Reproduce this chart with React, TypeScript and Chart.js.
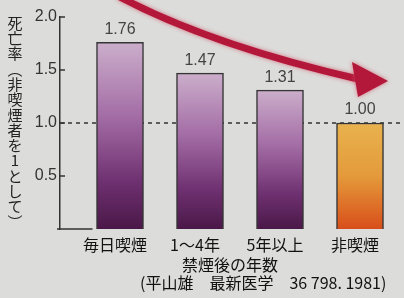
import React, { useEffect, useRef } from 'react';
import { Chart, registerables } from 'chart.js';

Chart.register(...registerables);

const categories = ['毎日喫煙', '1～4年', '5年以上', '非喫煙'];
const values = [1.76, 1.47, 1.31, 1.0];
const valueLabels = ['1.76', '1.47', '1.31', '1.00'];
const yTickValues = [0.5, 1.0, 1.5, 2.0];
const xTitle = '禁煙後の年数';
const yTitle = '死亡率︵非喫煙者を1として︶';
const sourceText = '(平山雄　最新医学　36 798. 1981)';
const referenceValue = 1.0;

const BG = '#dcdcda';
const JP = '"Noto Sans CJK JP", "Noto Sans", sans-serif';
const NUM = '"Liberation Sans", Arial, sans-serif';

export default function App() {
  const ref = useRef<HTMLCanvasElement | null>(null);

  useEffect(() => {
    document.body.style.margin = '0';
    document.body.style.background = BG;
    const canvas = ref.current;
    if (!canvas) return;

    const barColor = (ctx: any) => {
      const chart = ctx.chart;
      const i = ctx.dataIndex;
      const ys = chart.scales && chart.scales.y;
      if (!chart.chartArea || !ys) return '#8a4a8c';
      const top = ys.getPixelForValue(values[i]);
      const bottom = ys.getPixelForValue(0);
      const g = chart.ctx.createLinearGradient(0, top, 0, bottom);
      if (i === values.length - 1) {
        g.addColorStop(0, '#e8b24e');
        g.addColorStop(0.5, '#e49a3a');
        g.addColorStop(1, '#d84e1a');
      } else {
        g.addColorStop(0, '#cbaecb');
        g.addColorStop(0.4, '#a36ca5');
        g.addColorStop(0.75, '#6e3070');
        g.addColorStop(1, '#4a1848');
      }
      return g;
    };

    const decor = {
      id: 'decor',
      beforeDraw(chart: any) {
        const c = chart.ctx;
        c.save();
        c.fillStyle = BG;
        c.fillRect(0, 0, chart.width, chart.height);
        c.restore();
      },
      beforeDatasetsDraw(chart: any) {
        const c = chart.ctx;
        const ys = chart.scales.y;
        const area = chart.chartArea;
        const y = ys.getPixelForValue(referenceValue);
        c.save();
        c.strokeStyle = '#333';
        c.lineWidth = 1.5;
        c.setLineDash([4, 4]);
        c.beginPath();
        c.moveTo(area.left, y);
        c.lineTo(chart.width, y);
        c.stroke();
        c.setLineDash([]);
        yTickValues.forEach((v) => {
          const ty = ys.getPixelForValue(v);
          c.beginPath();
          c.moveTo(area.left, ty);
          c.lineTo(area.left + 5, ty);
          c.stroke();
        });
        const meta = chart.getDatasetMeta(0);
        const first = meta.data[0];
        const y0 = ys.getPixelForValue(0);
        c.beginPath();
        c.moveTo(area.left - 3, y0);
        c.lineTo(first.x - first.width / 2 - 4, y0);
        c.stroke();
        c.restore();
      },
      afterDatasetsDraw(chart: any) {
        const c = chart.ctx;
        const meta = chart.getDatasetMeta(0);
        c.save();
        c.font = `16px ${NUM}`;
        c.fillStyle = '#444';
        c.textAlign = 'center';
        c.textBaseline = 'bottom';
        meta.data.forEach((bar: any, i: number) => {
          c.fillText(valueLabels[i], bar.x, bar.y - 5);
        });
        c.font = `15px ${JP}`;
        c.fillStyle = '#222';
        c.textAlign = 'center';
        c.textBaseline = 'middle';
        const chars = Array.from(yTitle);
        chars.forEach((ch, k) => {
          c.fillText(ch, 15, 23 + k * 15.3);
        });
        c.font = `16px ${JP}`;
        c.fillStyle = '#111';
        c.textAlign = 'left';
        c.fillText(sourceText, 140, 283);
        c.strokeStyle = '#b3173a';
        c.fillStyle = '#b3173a';
        c.shadowColor = 'rgba(210,80,100,0.8)';
        c.shadowBlur = 4;
        c.lineWidth = 7;
        c.lineCap = 'butt';
        c.beginPath();
        c.moveTo(118, -4);
        c.quadraticCurveTo(210, 45, 358, 79);
        c.stroke();
        c.beginPath();
        c.moveTo(388, 81);
        c.lineTo(352, 62);
        c.lineTo(358, 97);
        c.closePath();
        c.fill();
        c.restore();
      },
    };

    const chart = new Chart(canvas, {
      type: 'bar',
      data: {
        datasets: [
          {
            data: values.map((v, i) => ({ x: i + 1, y: v })),
            backgroundColor: barColor,
            borderColor: '#353535',
            borderWidth: 1.5,
            barThickness: 47,
          },
        ],
      },
      options: {
        responsive: false,
        animation: false,
        layout: { padding: { top: 17, right: 4, left: 0, bottom: 0 } },
        plugins: {
          legend: { display: false },
          tooltip: { enabled: false },
        },
        scales: {
          x: {
            type: 'linear',
            offset: false,
            min: 0.25,
            max: 4.5,
            afterBuildTicks: (s: any) => {
              s.ticks = categories.map((_, i) => ({ value: i + 1 }));
            },
            afterFit: (s: any) => {
              s.height = 69;
            },
            grid: { display: false, drawTicks: false, offset: false },
            border: { display: false },
            ticks: {
              autoSkip: false,
              maxRotation: 0,
              padding: 6,
              labelOffset: -5,
              color: '#111',
              font: { family: JP, size: 16 },
              callback: (v: any) => categories[Math.round(Number(v)) - 1] ?? '',
            },
            title: {
              display: true,
              text: xTitle,
              color: '#111',
              font: { family: JP, size: 16 },
              padding: { top: 0, bottom: 23 },
            },
          },
          y: {
            min: 0,
            max: 2,
            afterFit: (s: any) => {
              s.width = 60;
            },
            grid: { display: false, drawTicks: false },
            border: { display: true, color: '#333', width: 1.5 },
            ticks: {
              stepSize: 0.5,
              padding: 3,
              color: '#333',
              font: { family: NUM, size: 16 },
              callback: (v: any) => (Number(v) === 0 ? '' : Number(v).toFixed(1)),
            },
          },
        },
      },
      plugins: [decor],
    });

    return () => chart.destroy();
  }, []);

  return (
    <div style={{ width: 404, height: 298 }}>
      <canvas ref={ref} width={404} height={298} style={{ display: 'block' }} />
    </div>
  );
}
